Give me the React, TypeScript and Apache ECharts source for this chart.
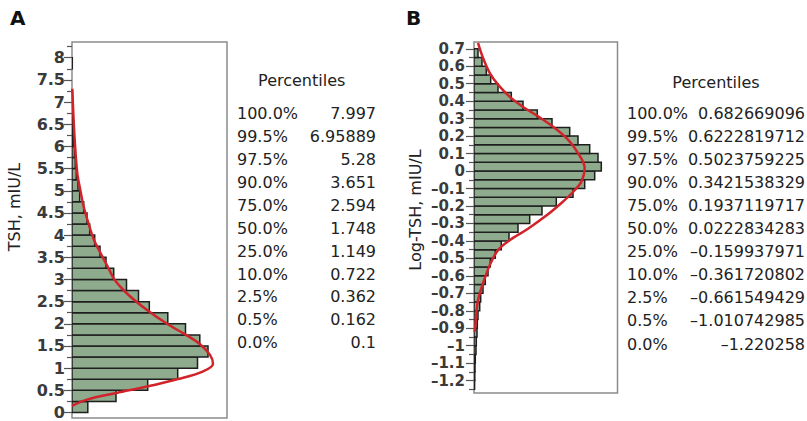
import React, { useEffect, useRef } from "react";
import * as echarts from "echarts";

// ---------- data ----------
const PCT_LABELS = ["100.0%", "99.5%", "97.5%", "90.0%", "75.0%", "50.0%", "25.0%", "10.0%", "2.5%", "0.5%", "0.0%"];
const TSH_PCT = ["7.997", "6.95889", "5.28", "3.651", "2.594", "1.748", "1.149", "0.722", "0.362", "0.162", "0.1"];
const LOG_PCT = [
  "0.682669096", "0.6222819712", "0.5023759225", "0.3421538329", "0.1937119717", "0.0222834283",
  "–0.159937971", "–0.361720802", "–0.661549429", "–1.010742985", "–1.220258",
];

// Histogram A: TSH bins of 0.25 starting at 0 (relative bar lengths)
const TSH_BIN_START = 0;
const TSH_BIN_WIDTH = 0.25;
const TSH_COUNTS = [
  15.8, 44, 75.7, 105.7, 125.5, 136, 127.8, 113.5, 95.8, 77.3, 66.5, 54.5, 41.7, 34, 28, 22.7,
  17.7, 15, 11.7, 7.7, 6, 4.3, 3.3, 2.5, 1.5, 1, 0.7, 0.6, 0.4, 0, 0, 0.3,
];
// Fitted density curve A (value, length)
const TSH_CURVE_V = [0.15, 0.29, 0.44, 0.59, 0.755, 0.915, 1.1, 1.3, 1.54, 1.75, 2.0, 2.31, 2.66, 2.98, 3.32, 3.66, 3.89, 4.19, 4.64, 5.02, 5.39, 6.15, 6.9, 7.3];
const TSH_CURVE_L = [0, 15, 44.5, 76, 106, 130, 141, 138, 128, 114, 95, 75, 56, 43, 35, 27, 22, 17.5, 11.7, 8.3, 5.3, 2.7, 1, 0.3];
const TSH_TICKS = [0, 0.5, 1, 1.5, 2, 2.5, 3, 3.5, 4, 4.5, 5, 5.5, 6, 6.5, 7, 7.5, 8];
const TSH_MINOR = [0.25, 0.75, 1.25, 1.75, 2.25, 2.75, 3.25, 3.75, 4.25, 4.75, 5.25, 5.75, 6.25, 6.75, 7.25, 7.75, 8.25];

// Histogram B: Log-TSH bins of 0.05 starting at -1.25
const LOG_BIN_START = -1.25;
const LOG_BIN_WIDTH = 0.05;
const LOG_COUNTS = [
  0.6, 0.8, 1, 1.3, 2, 2.3, 3, 3.3, 4, 5.7, 6.7, 9, 11.3, 14, 16.3, 21.3, 27.3, 35, 44, 55.7,
  68, 82.3, 99, 110.7, 120.7, 127.3, 124, 115.7, 104, 95.7, 78, 63.3, 49, 37.3, 24, 16.7, 12.3, 8, 4,
];
const LOG_CURVE_V = [-0.92, -0.893, -0.816, -0.74, -0.682, -0.615, -0.539, -0.453, -0.396, -0.33, -0.252, -0.18, -0.12, -0.059, 0.017, 0.103, 0.18, 0.247, 0.313, 0.361, 0.419, 0.495, 0.562, 0.648, 0.734];
const LOG_CURVE_L = [0.5, 1.3, 2.3, 4, 6.7, 10.7, 15.7, 24, 35.7, 54, 73, 88, 99, 107.5, 110.7, 104, 94, 80.7, 64, 50.7, 37, 24, 15.7, 9, 4];
const LOG_TICKS = [-1.2, -1.1, -1, -0.9, -0.8, -0.7, -0.6, -0.5, -0.4, -0.3, -0.2, -0.1, 0, 0.1, 0.2, 0.3, 0.4, 0.5, 0.6, 0.7];
const LOG_MINOR = [-1.25, -1.15, -1.05, -0.95, -0.85, -0.75, -0.65, -0.55, -0.45, -0.35, -0.25, -0.15, -0.05, 0.05, 0.15, 0.25, 0.35, 0.45, 0.55, 0.65];

// ---------- styles ----------
const FONT = '"DejaVu Sans", sans-serif';
const BAR_FILL = "#8eab8d";
const BAR_STROKE = "#1e1e1e";
const CURVE = "#d1232a";
const TICK = { color: "#555", width: 1.2 };

function barSeries(counts: number[], start: number, width: number, idx: number) {
  return {
    type: "custom",
    xAxisIndex: idx,
    yAxisIndex: idx * 2,
    clip: true,
    silent: true,
    z: 2,
    encode: { x: 2, y: [0, 1] },
    data: counts.map((c, i) => [start + i * width, start + (i + 1) * width, c]),
    renderItem: (_p: any, api: any) => {
      const lo = api.value(0);
      const hi = api.value(1);
      const len = api.value(2);
      if (!len) return null;
      const a = api.coord([0, lo]);
      const b = api.coord([len, hi]);
      return {
        type: "rect",
        shape: { x: a[0], y: b[1], width: b[0] - a[0], height: a[1] - b[1] },
        style: { fill: BAR_FILL, stroke: BAR_STROKE, lineWidth: 1.5 },
      };
    },
  };
}

function curveSeries(vals: number[], lens: number[], idx: number) {
  return {
    type: "line",
    xAxisIndex: idx,
    yAxisIndex: idx * 2,
    data: vals.map((v, i) => [lens[i], v]),
    showSymbol: false,
    symbol: "none",
    smooth: 0.35,
    silent: true,
    z: 5,
    lineStyle: { color: CURVE, width: 2.5 },
  };
}

function yAxes(grid: number, min: number, max: number, ticks: number[], minor: number[], fontSize: number, margin: number, fmt: (v: number) => string) {
  const base = {
    gridIndex: grid,
    type: "value",
    min,
    max,
    position: "left",
    offset: 0,
    axisLine: { show: false },
    splitLine: { show: false },
  };
  return [
    {
      ...base,
      axisTick: { show: true, customValues: ticks, length: 8, lineStyle: TICK },
      axisLabel: {
        customValues: ticks,
        margin,
        fontFamily: FONT,
        fontWeight: "bold",
        fontSize,
        color: "#3a3a3a",
        formatter: fmt,
      },
    },
    {
      ...base,
      axisTick: { show: true, customValues: minor, length: 5, lineStyle: TICK },
      axisLabel: { show: false },
    },
  ];
}

function tableTexts(values: string[], leftX: number, rightX: number, headerX: number, headerY: number, rowY: number, rowGap: number) {
  const els: any[] = [
    {
      type: "text",
      x: headerX,
      y: headerY,
      style: { text: "Percentiles", font: `16px ${FONT}`, fill: "#222", align: "center", verticalAlign: "middle", textAlign: "center", textVerticalAlign: "middle" },
    },
  ];
  PCT_LABELS.forEach((p, i) => {
    const y = rowY + i * rowGap;
    els.push({
      type: "text",
      x: leftX,
      y,
      style: { text: p, font: `16px ${FONT}`, fill: "#222", align: "left", verticalAlign: "middle", textAlign: "left", textVerticalAlign: "middle" },
    });
    els.push({
      type: "text",
      x: rightX,
      y,
      style: { text: values[i], font: `16px ${FONT}`, fill: "#222", align: "right", verticalAlign: "middle", textAlign: "right", textVerticalAlign: "middle" },
    });
  });
  return els;
}

function rotatedText(text: string, x: number, y: number) {
  return {
    type: "text",
    x,
    y,
    rotation: Math.PI / 2,
    style: { text, font: `16px ${FONT}`, fill: "#222", align: "center", verticalAlign: "middle", textAlign: "center", textVerticalAlign: "middle" },
  };
}

function panelLetter(text: string, x: number, y: number) {
  return {
    type: "text",
    x,
    y,
    style: { text, font: `bold 20px ${FONT}`, fill: "#111", align: "left", verticalAlign: "middle", textAlign: "left", textVerticalAlign: "middle" },
  };
}

const fmtA = (v: number) => String(v);
const fmtB = (v: number) => (v < 0 ? "–" + String(-v) : String(v));

const option: any = {
  animation: false,
  backgroundColor: "#fff",
  grid: [
    { left: 72, top: 42, width: 155, height: 376, show: true, borderColor: "#8c8c8c", borderWidth: 1.5, backgroundColor: "#fff", containLabel: false, outerBoundsMode: "none" },
    { left: 474, top: 42, width: 143.5, height: 351, show: true, borderColor: "#8c8c8c", borderWidth: 1.5, backgroundColor: "#fff", containLabel: false, outerBoundsMode: "none" },
  ],
  xAxis: [
    { gridIndex: 0, type: "value", min: 0, max: 155, show: false },
    { gridIndex: 1, type: "value", min: 0, max: 143.5, show: false },
  ],
  yAxis: [
    ...yAxes(0, -0.124, 8.354, TSH_TICKS, TSH_MINOR, 16, 7, fmtA),
    ...yAxes(1, -1.271, 0.739, LOG_TICKS, LOG_MINOR, 15, 9, fmtB),
  ],
  series: [
    barSeries(TSH_COUNTS, TSH_BIN_START, TSH_BIN_WIDTH, 0),
    curveSeries(TSH_CURVE_V, TSH_CURVE_L, 0),
    barSeries(LOG_COUNTS, LOG_BIN_START, LOG_BIN_WIDTH, 1),
    curveSeries(LOG_CURVE_V, LOG_CURVE_L, 1),
  ],
  graphic: [
    panelLetter("A", 10, 18),
    panelLetter("B", 406, 18),
    rotatedText("TSH, mIU/L", 14, 207),
    rotatedText("Log-TSH, mIU/L", 415, 210),
    ...tableTexts(TSH_PCT, 237, 376, 301.7, 80.7, 113.7, 22.9),
    ...tableTexts(LOG_PCT, 627, 805, 716, 82.7, 113.3, 23.07),
  ],
};

export default function App() {
  const ref = useRef<HTMLDivElement>(null);
  useEffect(() => {
    const chart = echarts.init(ref.current!, null, { renderer: "svg" });
    chart.setOption(option);
    return () => chart.dispose();
  }, []);
  return (
    <div
      ref={ref}
      style={{ position: "fixed", left: 0, top: 0, width: 807, height: 421, background: "#fff" }}
    />
  );
}
